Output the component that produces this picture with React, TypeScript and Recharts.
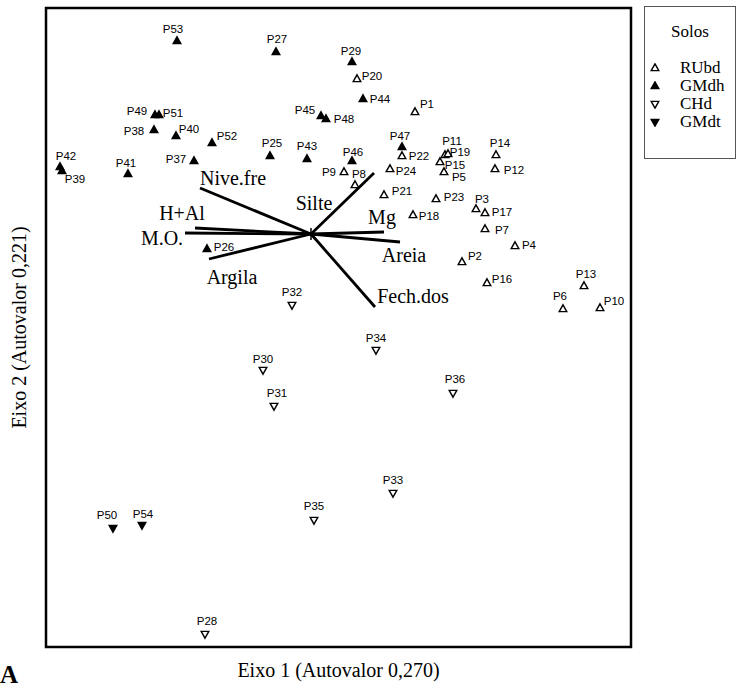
import React from 'react';
import {
  ScatterChart,
  Scatter,
  XAxis,
  YAxis,
  ReferenceLine,
  ReferenceDot,
  ReferenceArea,
  Legend,
} from 'recharts';

const SERIF = '"Liberation Serif", "Times New Roman", serif';
const SANS = '"Liberation Sans", Arial, sans-serif';

// axis ranges (scores)
const X_DOMAIN = [-2.65, 3.2];
const Y_DOMAIN = [-4.13, 2.26];

// RUbd
const RUBD_NAMES = ['P1', 'P2', 'P3', 'P4', 'P5', 'P6', 'P7', 'P8', 'P9', 'P10', 'P11', 'P12', 'P13', 'P14', 'P15', 'P16', 'P17', 'P18', 'P19', 'P20', 'P21', 'P22', 'P23', 'P24'];
const RUBD_X = [1.04, 1.51, 1.65, 2.04, 1.33, 2.52, 1.74, 0.44, 0.33, 2.89, 1.34, 1.84, 2.73, 1.85, 1.29, 1.76, 1.74, 1.02, 1.37, 0.46, 0.73, 0.91, 1.25, 0.79];
const RUBD_Y = [1.22, -0.28, 0.25, -0.12, 0.62, -0.75, 0.05, 0.49, 0.62, -0.74, 0.79, 0.65, -0.52, 0.79, 0.72, -0.49, 0.21, 0.19, 0.8, 1.55, 0.39, 0.78, 0.35, 0.65];

// GMdh
const GMDH_NAMES = ['P25', 'P26', 'P27', 'P29', 'P37', 'P38', 'P39', 'P40', 'P41', 'P42', 'P43', 'P44', 'P45', 'P46', 'P47', 'P48', 'P49', 'P51', 'P52', 'P53'];
const GMDH_X = [-0.41, -1.04, -0.35, 0.41, -1.17, -1.57, -2.49, -1.35, -1.83, -2.51, -0.04, 0.52, 0.1, 0.41, 0.91, 0.15, -1.56, -1.52, -0.99, -1.34];
const GMDH_Y = [0.78, -0.15, 1.82, 1.72, 0.73, 1.04, 0.63, 0.98, 0.6, 0.67, 0.75, 1.35, 1.18, 0.73, 0.87, 1.15, 1.19, 1.19, 0.91, 1.93];

// CHd
const CHD_NAMES = ['P28', 'P30', 'P31', 'P32', 'P33', 'P34', 'P35', 'P36'];
const CHD_X = [-1.06, -0.48, -0.37, -0.19, 0.82, 0.65, 0.03, 1.42];
const CHD_Y = [-4.0, -1.36, -1.72, -0.71, -2.59, -1.16, -2.86, -1.59];

// GMdt
const GMDT_NAMES = ['P50', 'P54'];
const GMDT_X = [-1.98, -1.69];
const GMDT_Y = [-2.94, -2.91];

// soil variables (biplot arrows)
const VECTOR_NAMES = ['Nive.fre', 'H+Al', 'M.O.', 'Argila', 'Silte', 'Mg', 'Areia', 'Fech.dos'];
const VECTOR_X = [-1.11, -1.16, -1.26, -1.02, 0.63, 0.73, 0.89, 0.64];
const VECTOR_Y = [0.46, 0.06, 0.01, -0.25, 0.61, 0.02, -0.08, -0.73];

// where each site label sits relative to its marker (px)
const LABEL_OFFSETS: Record<string, [number, number]> = {
  P1: [12, -8], P2: [13, -6], P3: [6, -10], P4: [14, -1], P5: [15, 5], P6: [-3, -13],
  P7: [17, 1], P8: [4, -11], P9: [-15, 0], P10: [14, -7], P11: [7, -14], P12: [19, 1],
  P13: [2, -12], P14: [4, -12], P15: [15, 3], P16: [15, -4], P17: [17, -1], P18: [16, 1],
  P19: [12, -2], P20: [15, -3], P21: [18, -4], P22: [17, 0], P23: [18, -2], P24: [16, 2],
  P25: [2, -13], P26: [17, -2], P27: [1, -13], P29: [-1, -11], P37: [-18, -2], P38: [-20, 1],
  P39: [13, 8], P40: [13, -7], P41: [-2, -11], P42: [6, -11], P43: [0, -13], P44: [17, 0],
  P45: [-16, -6], P46: [1, -9], P47: [-2, -11], P48: [18, 0], P49: [-18, -4], P51: [14, -2],
  P52: [15, -7], P53: [-4, -12], P28: [2, -13], P30: [0, -11], P31: [3, -13], P32: [0, -13],
  P33: [0, -13], P34: [0, -12], P35: [0, -14], P36: [2, -14], P50: [-6, -13], P54: [1, -11],
};

const VECTOR_LABEL_OFFSETS: Record<string, [number, number]> = {
  'Nive.fre': [33, -10],
  'H+Al': [-13, -15],
  'M.O.': [-23, 5],
  Argila: [23, 18],
  Silte: [-60, 30],
  Mg: [-2, -15],
  Areia: [4, 13],
  'Fech.dos': [38, -11],
};

const toPoints = (names: string[], xs: number[], ys: number[]) =>
  names.map((name, i) => ({ name, x: xs[i], y: ys[i] }));

const GROUPS = [
  { name: 'RUbd', up: true, filled: false, data: toPoints(RUBD_NAMES, RUBD_X, RUBD_Y) },
  { name: 'GMdh', up: true, filled: true, data: toPoints(GMDH_NAMES, GMDH_X, GMDH_Y) },
  { name: 'CHd', up: false, filled: false, data: toPoints(CHD_NAMES, CHD_X, CHD_Y) },
  { name: 'GMdt', up: false, filled: true, data: toPoints(GMDT_NAMES, GMDT_X, GMDT_Y) },
];

const triangle = (cx: number, cy: number, up: boolean, filled: boolean) => {
  const d = up
    ? `M${cx},${cy - 4.2}L${cx + 3.8},${cy + 2.6}L${cx - 3.8},${cy + 2.6}Z`
    : `M${cx},${cy + 4.2}L${cx + 3.8},${cy - 2.6}L${cx - 3.8},${cy - 2.6}Z`;
  return <path d={d} fill={filled ? '#000' : '#fff'} stroke="#000" strokeWidth={1.4} strokeLinejoin="miter" />;
};

const makeShape = (up: boolean, filled: boolean) => (props: any) => {
  const { cx, cy, payload } = props;
  const off = LABEL_OFFSETS[payload.name] || [0, -12];
  return (
    <g>
      {triangle(cx, cy, up, filled)}
      <text
        x={cx + off[0]}
        y={cy + off[1]}
        textAnchor="middle"
        dominantBaseline="central"
        fontFamily={SANS}
        fontSize={11.5}
        fill="#000"
      >
        {payload.name}
      </text>
    </g>
  );
};

const vectorLabel = (name: string) => (props: any) => {
  const off = VECTOR_LABEL_OFFSETS[name];
  return (
    <text
      x={props.cx + off[0]}
      y={props.cy + off[1]}
      textAnchor="middle"
      dominantBaseline="central"
      fontFamily={SERIF}
      fontSize={20}
      fill="#000"
    >
      {name}
    </text>
  );
};

const XTitle = (props: any) => {
  const vb = props.viewBox;
  return (
    <g>
      <text x={vb.x + vb.width / 2} y={vb.y + 30} textAnchor="middle" fontFamily={SERIF} fontSize={20} fill="#000">
        Eixo 1 (Autovalor 0,270)
      </text>
      <text x={9} y={vb.y + 36} textAnchor="middle" fontFamily={SERIF} fontSize={25} fontWeight="bold" fill="#000">
        A
      </text>
    </g>
  );
};

const YTitle = (props: any) => {
  const vb = props.viewBox;
  const x = 19;
  const y = vb.y + vb.height / 2;
  return (
    <text
      x={x}
      y={y}
      transform={`rotate(-90, ${x}, ${y})`}
      textAnchor="middle"
      dominantBaseline="central"
      fontFamily={SERIF}
      fontSize={20}
      fill="#000"
    >
      Eixo 2 (Autovalor 0,221)
    </text>
  );
};

const renderLegend = () => (
  <div
    style={{
      width: 90,
      height: 151,
      border: '1px solid #555',
      background: '#fff',
      fontFamily: SERIF,
      fontSize: 17,
      lineHeight: '18px',
      color: '#000',
    }}
  >
    <div style={{ textAlign: 'center', marginTop: 16 }}>Solos</div>
    <div style={{ marginTop: 18 }}>
      {GROUPS.map((g) => (
        <div key={g.name} style={{ display: 'flex', alignItems: 'center', height: 18 }}>
          <svg width={10} height={10} style={{ marginLeft: 5, marginRight: 20 }}>
            {triangle(5, 5, g.up, g.filled)}
          </svg>
          <span>{g.name}</span>
        </div>
      ))}
    </div>
  </div>
);

export default function App() {
  return (
    <div style={{ position: 'absolute', left: 0, top: 0, background: '#fff' }}>
      <ScatterChart width={738} height={691} margin={{ top: 8, right: 107, bottom: 0, left: 0 }}>
        <XAxis
          type="number"
          dataKey="x"
          domain={X_DOMAIN}
          allowDataOverflow
          height={44}
          tick={false}
          tickLine={false}
          axisLine={false}
          label={XTitle}
        />
        <YAxis
          type="number"
          dataKey="y"
          domain={Y_DOMAIN}
          allowDataOverflow
          width={46}
          tick={false}
          tickLine={false}
          axisLine={false}
          label={YTitle}
        />
        <ReferenceArea
          x1={X_DOMAIN[0]}
          x2={X_DOMAIN[1]}
          y1={Y_DOMAIN[0]}
          y2={Y_DOMAIN[1]}
          fill="none"
          stroke="#000"
          strokeWidth={2.5}
          fillOpacity={0}
        />
        {VECTOR_NAMES.map((name, i) => (
          <ReferenceLine
            key={name}
            segment={[{ x: 0, y: 0 }, { x: VECTOR_X[i], y: VECTOR_Y[i] }]}
            stroke="#000"
            strokeWidth={2.8}
          />
        ))}
        <ReferenceLine segment={[{ x: 0, y: -0.06 }, { x: 0, y: 0.06 }]} stroke="#000" strokeWidth={1.5} />
        {VECTOR_NAMES.map((name, i) => (
          <ReferenceDot key={`lbl-${name}`} x={VECTOR_X[i]} y={VECTOR_Y[i]} r={0} shape={vectorLabel(name)} />
        ))}
        {GROUPS.map((g) => (
          <Scatter
            key={g.name}
            name={g.name}
            data={g.data}
            shape={makeShape(g.up, g.filled)}
            isAnimationActive={false}
          />
        ))}
        <Legend
          layout="vertical"
          align="center"
          verticalAlign="middle"
          wrapperStyle={{ left: 644, top: 6 }}
          content={renderLegend}
        />
      </ScatterChart>
    </div>
  );
}
